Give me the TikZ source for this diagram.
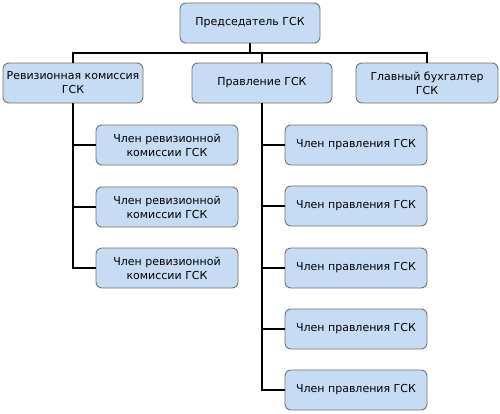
\documentclass[tikz,border=0pt]{standalone}
\usepackage{fontspec}
\setmainfont{DejaVu Sans}
\begin{document}
\begin{tikzpicture}[x=1pt,y=-1pt,
  box/.style={draw=black!55,fill=boxblue,rounded corners=6pt,line width=0.9pt,align=center,inner sep=0pt,font=\fontsize{11pt}{14pt}\selectfont,minimum height=40pt},
  conn/.style={line width=2.6pt,black}]
\definecolor{boxblue}{HTML}{C6DCF5}
\useasboundingbox (0,0) rectangle (500,413);
\fill[white] (0,0) rectangle (500,413);
% top
\node[box,minimum width=140pt] (pred) at (250,23) {Председатель ГСК};
\node[box,minimum width=140pt] (rev) at (73,83) {Ревизионная комиссия\\ГСК};
\node[box,minimum width=140pt] (prav) at (262,83) {Правление ГСК};
\node[box,minimum width=142pt] (buh) at (427,83) {Главный бухгалтер\\ГСК};
% revision members
\node[box,minimum width=142pt] (r1) at (167,145) {Член ревизионной\\комиссии ГСК};
\node[box,minimum width=142pt] (r2) at (167,207) {Член ревизионной\\комиссии ГСК};
\node[box,minimum width=142pt] (r3) at (167,268) {Член ревизионной\\комиссии ГСК};
% board members
\node[box,minimum width=142pt] (p1) at (356,145) {Член правления ГСК};
\node[box,minimum width=142pt] (p2) at (356,206) {Член правления ГСК};
\node[box,minimum width=142pt] (p3) at (356,268) {Член правления ГСК};
\node[box,minimum width=142pt] (p4) at (356,329) {Член правления ГСК};
\node[box,minimum width=142pt] (p5) at (356,390) {Член правления ГСК};
% connectors
\coordinate (bus) at (250,53);
\draw[conn] (pred.south) -- (bus);
\draw[conn] (rev.north) |- (bus) -| (buh.north);
\draw[conn] (prav.north) -- (prav.north |- bus);
\draw[conn] (rev.south) -- (rev.south |- r3.west) -- (r3.west);
\draw[conn] (rev.south |- r1.west) -- (r1.west);
\draw[conn] (rev.south |- r2.west) -- (r2.west);
\draw[conn] (prav.south) -- (prav.south |- p5.west) -- (p5.west);
\draw[conn] (prav.south |- p1.west) -- (p1.west);
\draw[conn] (prav.south |- p2.west) -- (p2.west);
\draw[conn] (prav.south |- p3.west) -- (p3.west);
\draw[conn] (prav.south |- p4.west) -- (p4.west);
\end{tikzpicture}
\end{document}
